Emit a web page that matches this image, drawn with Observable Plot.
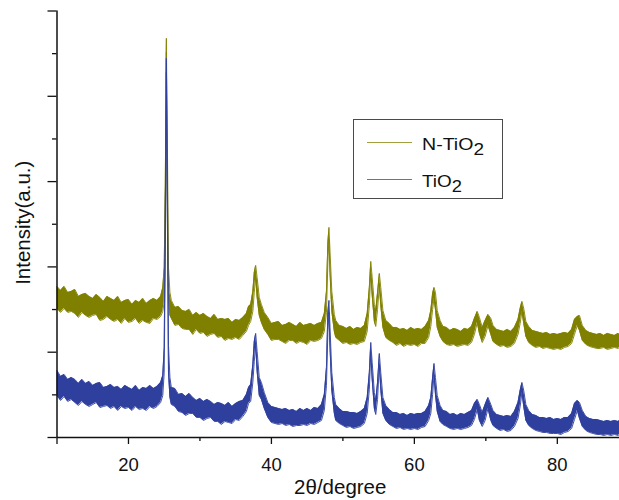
<!DOCTYPE html>
<html>
<head>
<meta charset="utf-8">
<script src="https://cdn.jsdelivr.net/npm/d3@7"></script>
<script src="https://cdn.jsdelivr.net/npm/@observablehq/plot@0.6"></script>
<style>
  html, body { margin: 0; padding: 0; background: #fff; }
  #chart { width: 619px; height: 500px; overflow: hidden; }
</style>
</head>
<body>
<div id="chart"></div>
<script>
// 2θ positions (degrees)
const angle = [10,10.5,11,11.5,12,12.5,13,13.5,14,14.5,15,15.5,16,16.5,17,17.5,18,18.5,19,19.5,20,20.5,21,21.5,22,22.5,23,23.5,24,
24.5,24.8,25,25.15,25.3,25.45,25.6,25.8,
26,26.5,27,27.5,28,28.5,29,29.5,30,30.5,31,31.5,32,32.5,33,33.5,34,34.5,35,35.5,36,
36.5,36.8,37.1,37.4,37.6,37.8,38,38.3,38.6,
39,39.5,40,40.5,41,41.5,42,42.5,43,43.5,44,44.5,45,45.5,46,46.5,
47,47.4,47.7,47.9,48.05,48.2,48.45,48.8,
49,49.5,50,50.5,51,51.5,52,52.5,
53,53.4,53.7,53.9,54.1,54.4,54.6,54.85,55.1,55.3,55.6,
56,56.5,57,57.5,58,58.5,59,59.5,60,60.5,61,61.5,
62,62.3,62.55,62.75,62.95,63.2,63.6,
64,64.5,65,65.5,66,66.5,67,67.5,
68,68.4,68.8,69.1,69.5,69.9,70.3,70.7,
71,71.5,72,72.5,73,73.5,
74,74.5,74.8,75.05,75.3,75.6,
76,76.5,77,77.5,78,78.5,79,79.5,80,80.5,81,81.5,
82,82.4,82.8,83.1,83.5,
84,84.5,85,85.5,86,86.5,87,87.5,88,88.5,88.7];

// N-TiO2: upper and lower edge of the noisy trace (a.u.)
const nTiO2High = [151,147,151,145,146,148,141,143,144,141,139,143,140,136,141,139,137,141,135,137,138,133,137,135,139,134,137,139,137,
141,150,170,250,399,290,170,145,
137,130,131,127,126,128,122,125,122,124,121,119,123,118,119,118,119,115,118,117,120,
124,131,133,146,165,172,160,140,133,
125,120,114,115,116,112,113,115,113,111,115,112,113,114,112,114,
115,124,146,195,210,186,146,123,
117,112,111,109,111,108,110,109,
112,124,150,176,160,133,127,145,164,150,127,
117,114,110,110,108,109,107,110,108,109,108,111,
117,127,144,150,145,127,117,
111,110,107,109,108,106,109,108,
111,119,126,120,110,117,123,119,
112,108,107,106,108,106,
110,118,129,136,129,116,
111,107,106,105,104,105,103,104,103,104,105,104,
108,118,121,122,112,
107,105,104,103,104,102,104,103,102,104,103];
const nTiO2Low = [129,125,129,125,126,124,120,125,122,120,122,123,117,118,121,118,116,118,114,119,115,116,119,114,117,115,114,119,118,
121,126,135,200,385,240,140,122,
119,112,113,109,108,108,103,108,104,105,101,103,104,100,101,97,99,98,100,98,102,
106,112,116,126,145,160,140,122,115,
108,103,97,98,98,96,94,97,97,94,96,95,93,97,96,97,
99,106,125,175,198,165,126,106,
100,97,94,95,93,94,93,95,
96,106,132,164,142,116,111,128,152,132,110,
100,97,95,92,94,91,93,92,93,91,94,94,
100,111,128,139,128,110,101,
96,93,92,93,91,92,93,92,
95,103,115,104,95,101,112,103,
96,93,91,92,90,91,
94,103,114,126,114,101,
95,92,90,91,89,90,89,88,89,88,90,91,
94,103,112,107,97,
93,91,90,89,89,90,88,89,90,89,90];

// TiO2: upper and lower edge of the noisy trace (a.u.)
const tio2High = [67,61,63,58,60,58,54,58,54,56,52,54,55,50,51,53,50,51,48,52,50,48,52,47,50,49,52,49,51,
55,62,90,220,379,260,92,60,
50,49,43,44,41,44,40,37,39,36,38,36,33,35,34,32,35,31,34,36,37,
43,50,53,73,96,104,86,60,55,
45,35,31,30,29,28,29,27,28,26,29,27,29,27,30,29,
33,43,70,125,137,110,65,40,
33,29,26,26,25,25,24,26,
29,40,65,95,75,45,37,55,84,65,40,
32,28,25,25,23,24,22,24,23,24,24,26,
32,40,60,74,60,42,32,
27,26,23,24,22,24,23,25,
27,34,38,33,25,33,40,33,
27,23,22,21,22,21,
26,35,47,55,47,33,
27,23,22,20,20,19,20,18,19,18,20,20,
24,34,37,35,27,
21,19,18,18,17,16,17,16,17,16,17];
const tio2Low = [42,37,41,36,38,35,32,36,33,31,33,35,30,31,32,29,31,27,31,29,30,27,31,28,29,27,31,29,31,
35,42,65,180,365,215,65,40,
33,31,26,25,22,24,24,20,20,17,19,20,16,16,13,16,15,14,18,17,21,
26,34,36,55,76,92,66,42,38,
29,20,15,14,13,14,12,13,11,12,12,13,12,14,13,15,
17,27,52,105,125,90,47,24,
17,14,12,10,11,9,10,11,
14,24,48,84,58,29,23,38,73,48,24,
17,13,11,9,10,8,9,8,9,8,10,11,
17,24,43,63,43,26,16,
13,11,9,8,9,8,9,10,
12,18,28,17,11,17,29,17,
12,9,7,8,6,7,
11,19,31,45,31,17,
12,9,7,6,5,5,4,4,4,3,5,6,
9,18,27,19,11,
7,5,4,3,3,2,3,2,3,2,3];

const seriesNames = ["N-TiO", "TiO"];   // followed by subscript 2
const xMajorTicks = [10, 20, 40, 60, 80];
const xMinorTicks = [30, 50, 70];
const yMajorTicks = [0, 85.26, 170.52, 255.78, 341.04, 426.3];
const yMinorTicks = [42.63, 127.89, 213.15, 298.41, 383.67];
const xTitle = "2θ/degree";
const yTitle = "Intensity(a.u.)";

const OLIVE = "#808000";
const BLUE = "#2f3f9e";
const FONT = "'Liberation Sans', Arial, Helvetica, sans-serif";

const nRows = angle.map((a, i) => ({angle: a, lo: nTiO2Low[i], hi: nTiO2High[i]}));
const tRows = angle.map((a, i) => ({angle: a, lo: tio2Low[i], hi: tio2High[i]}));

const chart = Plot.plot({
  width: 619,
  height: 500,
  marginLeft: 56.5,
  marginRight: 0,
  marginTop: 10.5,
  marginBottom: 63,
  style: {fontFamily: FONT, fontSize: "18px", color: "#111", background: "#fff", overflow: "hidden"},
  x: {domain: [10, 88.7], axis: null},
  y: {domain: [0, 426.3], axis: null},
  marks: [
    Plot.areaY(nRows, {x: "angle", y1: "lo", y2: "hi", fill: OLIVE}),
    Plot.lineY(nRows, {x: "angle", y: "hi", stroke: OLIVE, strokeWidth: 0.9}),
    Plot.lineY(nRows, {x: "angle", y: "lo", stroke: OLIVE, strokeWidth: 0.9}),
    Plot.areaY(tRows, {x: "angle", y1: "lo", y2: "hi", fill: BLUE}),
    Plot.lineY(tRows, {x: "angle", y: "hi", stroke: BLUE, strokeWidth: 0.9}),
    Plot.lineY(tRows, {x: "angle", y: "lo", stroke: BLUE, strokeWidth: 0.9}),
    Plot.axisX({ticks: xMajorTicks, tickSize: 7, tickPadding: 13, strokeWidth: 1.3, fontSize: 18.5,
                tickFormat: d => d === 10 ? "" : String(d), label: null}),
    Plot.axisX({ticks: xMinorTicks, tickSize: 4, strokeWidth: 1.3, tickFormat: () => "", label: null}),
    Plot.axisY({ticks: yMajorTicks, tickSize: 9, strokeWidth: 1.3, tickFormat: () => "", label: null}),
    Plot.axisY({ticks: yMinorTicks, tickSize: 4.5, strokeWidth: 1.3, tickFormat: () => "", label: null}),
    Plot.ruleX([10], {stroke: "#111", strokeWidth: 1.5}),
    Plot.ruleY([0], {stroke: "#111", strokeWidth: 1.5}),
    Plot.text([yTitle], {text: d => d, frameAnchor: "left", textAnchor: "middle", dx: -34, dy: -1.5,
                         rotate: -90, fontSize: 20.5, fill: "#111"}),
    Plot.text([xTitle], {text: d => d, frameAnchor: "bottom", textAnchor: "middle", dy: 56, dx: 2,
                         fontSize: 20.5, fill: "#111"})
  ]
});

// legend box inside the plot area
const svg = d3.select(chart);
const lg = svg.append("g").attr("font-family", FONT).attr("text-anchor", "start");
lg.append("rect").attr("x", 353.5).attr("y", 119.5).attr("width", 149).attr("height", 79)
  .attr("fill", "#fff").attr("stroke", "#4a4a4a").attr("stroke-width", 1);
const legendColors = [OLIVE, BLUE];
const legendWidths = [62, 40];
seriesNames.forEach((name, i) => {
  const y = 142.5 + i * 37;
  lg.append("line").attr("x1", 367).attr("x2", 412).attr("y1", y).attr("y2", y)
    .attr("stroke", legendColors[i]).attr("stroke-width", 1).attr("stroke-opacity", 0.75);
  const t = lg.append("text").attr("x", 422).attr("y", y + 7.5).attr("font-size", 16.5).attr("fill", "#111")
    .attr("text-anchor", "start").attr("textLength", legendWidths[i]).attr("lengthAdjust", "spacingAndGlyphs");
  t.append("tspan").text(name);
  t.append("tspan").attr("dy", 5).attr("font-size", 16).text("2");
});

document.getElementById("chart").appendChild(chart);
</script>
</body>
</html>
